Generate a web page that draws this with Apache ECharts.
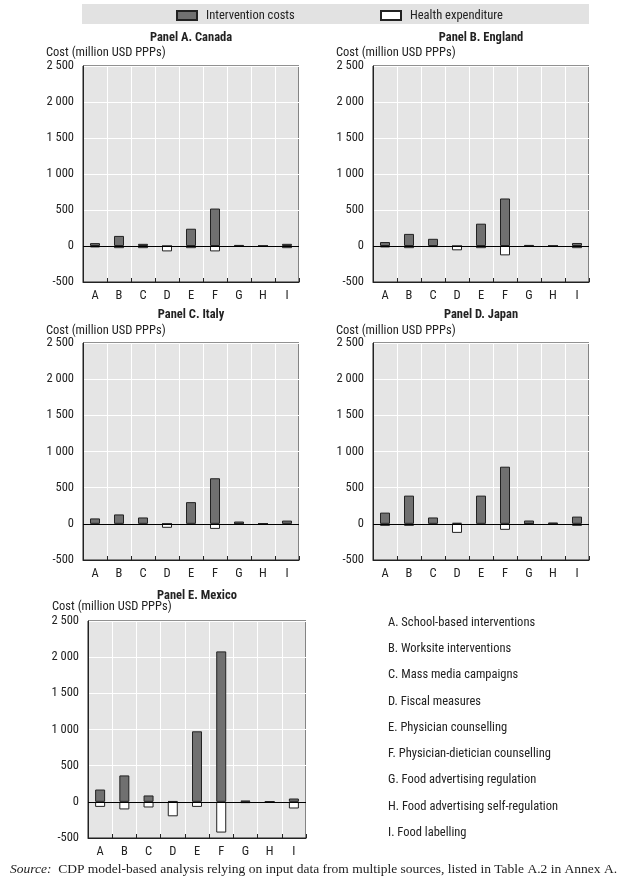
<!DOCTYPE html>
<html>
<head>
<meta charset="utf-8">
<script src="https://cdn.jsdelivr.net/npm/echarts@6/dist/echarts.min.js"></script>
<style>
html,body{margin:0;padding:0;background:#fff;}
#chart{width:629px;height:881px;background:#fff;}
</style>
</head>
<body>
<div id="chart"></div>
<script>
var categories = ['A','B','C','D','E','F','G','H','I'];
var panelTitles = ['Panel A. Canada','Panel B. England','Panel C. Italy','Panel D. Japan','Panel E. Mexico'];
var yTicks = {min: -500, max: 2500, interval: 500};

var canadaCosts   = [40, 140, 30, 0, 240, 520, 15, 0, 30];
var canadaHealth  = [-20, -30, -30, -75, -30, -75, -5, 0, -30];
var englandCosts  = [55, 168, 100, 0, 310, 660, 15, 0, 42];
var englandHealth = [-20, -30, -15, -60, -30, -130, -5, 0, -30];
var italyCosts    = [75, 130, 88, 0, 300, 630, 32, 0, 45];
var italyHealth   = [-15, -15, -15, -55, -15, -70, -3, 0, -15];
var japanCosts    = [155, 390, 88, 14, 390, 790, 46, 18, 100];
var japanHealth   = [-28, -28, -15, -125, -15, -83, -3, -3, -28];
var mexicoCosts   = [170, 365, 88, 10, 975, 2080, 18, 5, 46];
var mexicoHealth  = [-70, -105, -78, -200, -70, -425, -18, -12, -92];

var notes = ['A. School-based interventions','B. Worksite interventions','C. Mass media campaigns','D. Fiscal measures','E. Physician counselling','F. Physician-dietician counselling','G. Food advertising regulation','H. Food advertising self-regulation','I. Food labelling'];
var yAxisName = 'Cost (million USD PPPs)';
var legendNames = ['Intervention costs','Health expenditure'];

var costs = [canadaCosts, englandCosts, italyCosts, japanCosts, mexicoCosts];
var health = [canadaHealth, englandHealth, italyHealth, japanHealth, mexicoHealth];

var FONT = "'Liberation Sans Narrow','Arial Narrow','Roboto Condensed','Liberation Sans',sans-serif";
var SERIF = "'Liberation Serif','DejaVu Serif',serif";
var TXT = '#222';
var PLOT_BG = '#e5e5e5';

var grids = [
  {left: 83, top: 66, width: 216, height: 216},
  {left: 373, top: 66, width: 216, height: 216},
  {left: 83, top: 343, width: 216, height: 217},
  {left: 373, top: 343, width: 216, height: 217},
  {left: 88, top: 621, width: 218, height: 217}
];
var titlePos = [[191, 31], [481, 31], [191, 308], [481, 308], [197, 589]];
var namePos = [[46, 53], [336, 53], [46, 331], [336, 331], [52, 607]];

function fmt(v){ return String(v).replace(/\B(?=(\d{3})+(?!\d))/g, ' '); }

var option = {
  animation: false,
  textStyle: {fontFamily: FONT, color: TXT},
  title: [],
  legend: [
    {data: [legendNames[0]], left: 176, top: 9, icon: 'rect', itemWidth: 20, itemHeight: 9, padding: 0,
     textStyle: {fontFamily: FONT, fontSize: 12.5, color: TXT, padding: [0,0,0,4]}},
    {data: [legendNames[1]], left: 380, top: 9, icon: 'rect', itemWidth: 20, itemHeight: 9, padding: 0,
     textStyle: {fontFamily: FONT, fontSize: 12.5, color: TXT, padding: [0,0,0,4]}}
  ],
  grid: [], xAxis: [], yAxis: [], series: [],
  graphic: []
};

option.graphic.push({type: 'rect', left: 82, top: 4, shape: {width: 507, height: 20}, style: {fill: '#e2e2e2'}});

for (var i = 0; i < 5; i++) {
  var g = grids[i];
  option.grid.push({left: g.left, top: g.top, width: g.width, height: g.height, show: true,
    backgroundColor: PLOT_BG, borderColor: '#222', borderWidth: 1});
  option.title.push({text: panelTitles[i], left: titlePos[i][0], top: titlePos[i][1], textAlign: 'center',
    padding: 0, textStyle: {fontFamily: FONT, fontSize: 12.5, fontWeight: 'bold', color: TXT}});
  option.graphic.push({type: 'text', left: namePos[i][0], top: namePos[i][1] - 7,
    style: {text: yAxisName, fontFamily: FONT, fontSize: 12.5, fill: TXT}});
  option.xAxis.push({type: 'category', gridIndex: i, data: categories,
    axisLine: {show: true, onZero: false, lineStyle: {color: '#222'}},
    axisTick: {show: true, inside: true, length: 4, interval: 0, lineStyle: {color: '#222'}},
    splitLine: {show: true, interval: 0, lineStyle: {color: '#ffffff', width: 1}},
    axisLabel: {interval: 0, margin: 7, fontSize: 12.5, color: TXT, fontFamily: FONT}});
  option.yAxis.push({type: 'value', gridIndex: i, min: yTicks.min, max: yTicks.max, interval: yTicks.interval,
    axisLine: {show: true, lineStyle: {color: '#222'}},
    axisTick: {show: false},
    splitLine: {show: true, lineStyle: {color: '#ffffff', width: 1}},
    axisLabel: {margin: 9, fontSize: 12.5, color: TXT, fontFamily: FONT, formatter: fmt}});
  option.series.push({name: legendNames[0], type: 'bar', xAxisIndex: i, yAxisIndex: i, data: costs[i],
    barWidth: 10, barGap: '-100%',
    itemStyle: {color: '#707070', borderColor: '#222', borderWidth: 1},
    markLine: {silent: true, symbol: ['none','none'], label: {show: false},
      lineStyle: {color: '#000', type: 'solid', width: 1}, data: [{yAxis: 0}]}});
  option.series.push({name: legendNames[1], type: 'bar', xAxisIndex: i, yAxisIndex: i, data: health[i],
    barWidth: 10, barGap: '-100%',
    itemStyle: {color: '#ffffff', borderColor: '#222', borderWidth: 1}});
}

for (var k = 0; k < notes.length; k++) {
  option.graphic.push({type: 'text', left: 388, top: 616 + k * 26.3,
    style: {text: notes[k], fontFamily: FONT, fontSize: 12.5, fill: TXT}});
}

option.graphic.push({type: 'text', left: 10, top: 862,
  style: {text: '{i|Source:}  CDP model-based analysis relying on input data from multiple sources, listed in Table A.2 in Annex A.',
    fontFamily: SERIF, fontSize: 13.5, fill: TXT,
    rich: {i: {fontStyle: 'italic', fontFamily: SERIF, fontSize: 13.5, fill: TXT}}}});

var chart = echarts.init(document.getElementById('chart'), null, {renderer: 'canvas'});
chart.setOption(option);
</script>
</body>
</html>
